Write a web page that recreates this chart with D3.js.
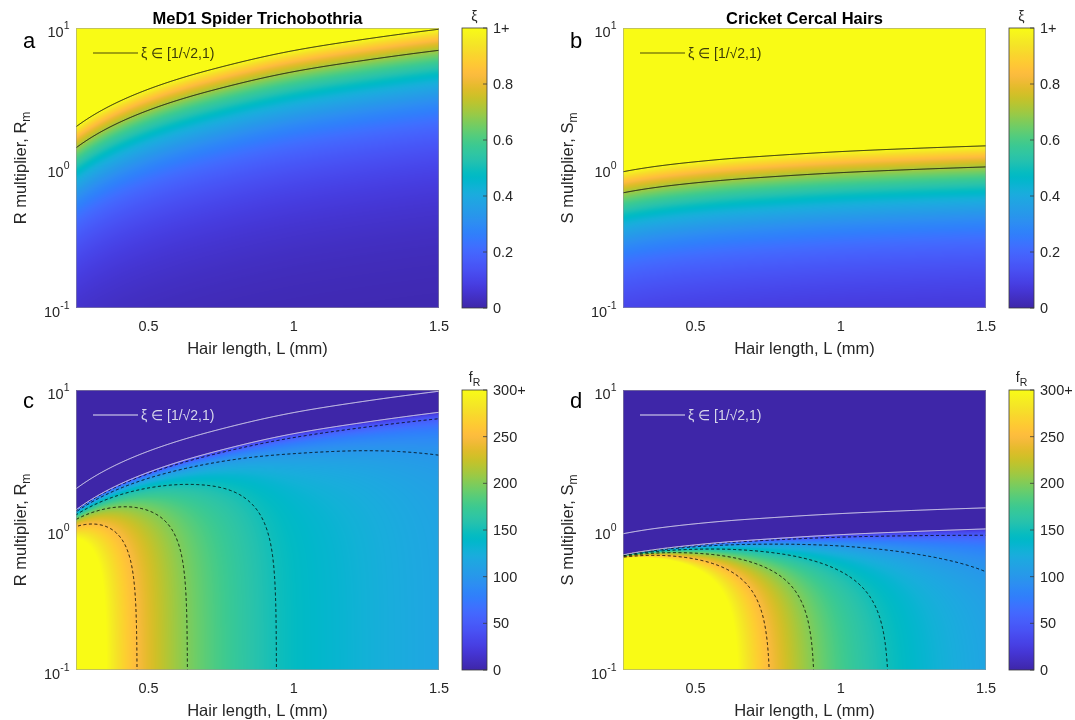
<!DOCTYPE html>
<html>
<head>
<meta charset="utf-8">
<script src="https://cdn.jsdelivr.net/npm/d3@7"></script>
<style>
  body { margin: 0; background: #fff; }
  #wrap { position: relative; width: 1075px; height: 720px; }
  #wrap canvas, #wrap svg { position: absolute; left: 0; top: 0; }
  text { font-family: "Liberation Sans", Arial, Helvetica, sans-serif; }
</style>
</head>
<body>
<div id="wrap">
  <canvas id="heat" width="1075" height="720"></canvas>
  <svg id="chart" width="1075" height="720"></svg>
</div>
<script>
// Hair lengths (mm) at which the boundary curves and frequencies are sampled
const hairLength = [0.25, 0.375, 0.5, 0.625, 0.75, 1.0, 1.25, 1.5];
// Multiplier giving critical damping (xi = 1), spider trichobothria (R_m)
const spiderCritical = [1.97, 2.83, 3.66, 4.47, 5.27, 6.9, 8.35, 9.8];
// Multiplier giving critical damping (xi = 1), cricket cercal hairs (S_m)
const cricketCritical = [0.94, 1.035, 1.108, 1.17, 1.22, 1.31, 1.38, 1.44];
// Lightly damped resonant frequency (Hz) against hair length
const spiderFreq = [384, 289, 236, 202, 178, 144, 128, 115];
const cricketFreq = [920, 573, 408, 314, 253, 179, 139, 115];

// Axis and colour-bar ticks
const lengthTicks = [0.5, 1, 1.5];
const multiplierTicks = [0.1, 1, 10];
const multiplierExponents = ["-1", "0", "1"];
const xiTicks = [0, 0.2, 0.4, 0.6, 0.8, 1];
const xiTickLabels = ["0", "0.2", "0.4", "0.6", "0.8", "1+"];
const freqTicks = [0, 50, 100, 150, 200, 250, 300];
const freqTickLabels = ["0", "50", "100", "150", "200", "250", "300+"];
// Contour levels
const xiLevels = [Math.SQRT1_2, 1];
const freqLevels = [50, 100, 150, 200, 250];

// parula colour map
const parula = [
[0.2422,0.1504,0.6603],[0.2504,0.1650,0.7076],[0.2578,0.1818,0.7511],[0.2647,0.1978,0.7952],
[0.2706,0.2147,0.8364],[0.2751,0.2342,0.8710],[0.2783,0.2559,0.8991],[0.2803,0.2782,0.9221],
[0.2813,0.3006,0.9414],[0.2810,0.3228,0.9579],[0.2795,0.3447,0.9717],[0.2760,0.3667,0.9829],
[0.2699,0.3892,0.9906],[0.2602,0.4123,0.9952],[0.2440,0.4358,0.9988],[0.2206,0.4603,0.9973],
[0.1963,0.4847,0.9892],[0.1834,0.5074,0.9798],[0.1786,0.5289,0.9682],[0.1764,0.5499,0.9520],
[0.1687,0.5703,0.9359],[0.1540,0.5902,0.9218],[0.1460,0.6091,0.9079],[0.1380,0.6276,0.8973],
[0.1248,0.6459,0.8883],[0.1113,0.6635,0.8763],[0.0952,0.6798,0.8598],[0.0689,0.6948,0.8394],
[0.0297,0.7082,0.8163],[0.0036,0.7203,0.7917],[0.0067,0.7312,0.7660],[0.0433,0.7411,0.7394],
[0.0964,0.7500,0.7120],[0.1408,0.7584,0.6842],[0.1717,0.7670,0.6554],[0.1938,0.7758,0.6251],
[0.2161,0.7843,0.5923],[0.2470,0.7918,0.5567],[0.2906,0.7973,0.5188],[0.3406,0.8008,0.4789],
[0.3909,0.8029,0.4354],[0.4456,0.8024,0.3909],[0.5044,0.7993,0.3480],[0.5616,0.7942,0.3045],
[0.6174,0.7876,0.2612],[0.6720,0.7793,0.2227],[0.7242,0.7698,0.1910],[0.7738,0.7598,0.1646],
[0.8203,0.7498,0.1535],[0.8634,0.7406,0.1596],[0.9035,0.7330,0.1774],[0.9393,0.7288,0.2100],
[0.9728,0.7298,0.2394],[0.9956,0.7434,0.2371],[0.9970,0.7659,0.2199],[0.9952,0.7893,0.2028],
[0.9892,0.8136,0.1885],[0.9786,0.8386,0.1766],[0.9676,0.8639,0.1643],[0.9610,0.8890,0.1537],
[0.9597,0.9135,0.1423],[0.9628,0.9373,0.1265],[0.9691,0.9606,0.1064],[0.9769,0.9839,0.0805]
];
const parulaScale = d3.scaleLinear()
  .domain(parula.map((_, i) => i / (parula.length - 1)))
  .range(parula.map(c => d3.rgb(c[0] * 255, c[1] * 255, c[2] * 255)))
  .interpolate(d3.interpolateRgb)
  .clamp(true);
const LUT_N = 1024;
const lut = d3.range(LUT_N).map(i => d3.rgb(parulaScale(i / (LUT_N - 1))));

// Smooth monotone curve through sampled points (log-log space)
function smoothCurve(xs, ys) {
  const X = xs.map(Math.log), Y = ys.map(Math.log), n = X.length;
  const d = [], m = [];
  for (let i = 0; i < n - 1; i++) d.push((Y[i + 1] - Y[i]) / (X[i + 1] - X[i]));
  m[0] = d[0]; m[n - 1] = d[n - 2];
  for (let i = 1; i < n - 1; i++) m[i] = d[i - 1] * d[i] <= 0 ? 0 : 2 / (1 / d[i - 1] + 1 / d[i]);
  return v => {
    const x = Math.log(v);
    if (x <= X[0]) return Math.exp(Y[0] + m[0] * (x - X[0]));
    if (x >= X[n - 1]) return Math.exp(Y[n - 1] + m[n - 1] * (x - X[n - 1]));
    const i = Math.min(d3.bisectRight(X, x) - 1, n - 2);
    const h = X[i + 1] - X[i], t = (x - X[i]) / h, t2 = t * t, t3 = t2 * t;
    const y = (2 * t3 - 3 * t2 + 1) * Y[i] + (t3 - 2 * t2 + t) * h * m[i]
            + (-2 * t3 + 3 * t2) * Y[i + 1] + (t3 - t2) * h * m[i + 1];
    return Math.exp(y);
  };
}

const spider = { crit: smoothCurve(hairLength, spiderCritical), f0: smoothCurve(hairLength, spiderFreq) };
const cricket = { crit: smoothCurve(hairLength, cricketCritical), f0: smoothCurve(hairLength, cricketFreq) };

// damping ratio and damped resonant frequency
const dampingRatio = (sp, L, mult) => mult / sp.crit(L);
function resonantFreq(sp, L, mult) {
  const xi = dampingRatio(sp, L, mult);
  return xi < Math.SQRT1_2 ? sp.f0(L) * Math.sqrt(1 - 2 * xi * xi) : 0;
}

const colLeft = [76, 623], plotW = 363;
const rowTop = [28, 390], plotH = 280;
const cbOffset = 386, cbW = 25;

const panels = [
  { letter: "a", col: 0, row: 0, sp: spider, kind: "xi", title: "MeD1 Spider Trichobothria", ylab: "R multiplier, R" },
  { letter: "b", col: 1, row: 0, sp: cricket, kind: "xi", title: "Cricket Cercal Hairs", ylab: "S multiplier, S" },
  { letter: "c", col: 0, row: 1, sp: spider, kind: "freq", ylab: "R multiplier, R" },
  { letter: "d", col: 1, row: 1, sp: cricket, kind: "freq", ylab: "S multiplier, S" }
];

const svg = d3.select("#chart");
const ctx = document.getElementById("heat").getContext("2d");
const defs = svg.append("defs");
const tickColor = "#262626";

// colour-bar gradient
const grad = defs.append("linearGradient").attr("id", "parulaGrad")
  .attr("x1", 0).attr("y1", 1).attr("x2", 0).attr("y2", 0);
grad.selectAll("stop").data(d3.range(65)).join("stop")
  .attr("offset", i => i / 64)
  .attr("stop-color", i => parulaScale(i / 64));

panels.forEach((p, pi) => {
  const left = colLeft[p.col], top = rowTop[p.row];
  const right = left + plotW, bottom = top + plotH;
  const x = d3.scaleLinear().domain([0.25, 1.5]).range([left, right]);
  const y = d3.scaleLog().domain([0.1, 10]).range([bottom, top]);
  const isXi = p.kind === "xi";
  const vmax = isXi ? 1 : 300;
  const field = isXi ? (L, m) => dampingRatio(p.sp, L, m) : (L, m) => resonantFreq(p.sp, L, m);

  // heat map, one sample per screen pixel
  const img = ctx.createImageData(plotW, plotH);
  for (let j = 0; j < plotH; j++) {
    const m = y.invert(top + j + 0.5);
    for (let i = 0; i < plotW; i++) {
      const L = x.invert(left + i + 0.5);
      const t = Math.max(0, Math.min(1, field(L, m) / vmax));
      const c = lut[Math.round(t * (LUT_N - 1))];
      const k = (j * plotW + i) * 4;
      img.data[k] = c.r; img.data[k + 1] = c.g; img.data[k + 2] = c.b; img.data[k + 3] = 255;
    }
  }
  ctx.putImageData(img, left, top);

  const g = svg.append("g");
  defs.append("clipPath").attr("id", "clip" + pi)
    .append("rect").attr("x", left).attr("y", top).attr("width", plotW).attr("height", plotH);

  // contour lines computed on a slightly larger grid, clipped to the axes
  function contourPaths(fn, levels) {
    const mg = 3, nx = plotW + 2 * mg, ny = plotH + 2 * mg;
    const values = new Float64Array(nx * ny);
    for (let j = 0; j < ny; j++) {
      const m = y.invert(top - mg + j + 0.5);
      for (let i = 0; i < nx; i++) values[j * nx + i] = fn(x.invert(left - mg + i + 0.5), m);
    }
    const polys = d3.contours().size([nx, ny]).thresholds(levels)(values);
    const proj = d3.geoTransform({ point(px, py) { this.stream.point(left - mg + px, top - mg + py); } });
    return { polys, path: d3.geoPath(proj) };
  }

  const cg = g.append("g").attr("clip-path", `url(#clip${pi})`);
  if (!isXi) {
    const fc = contourPaths((L, m) => resonantFreq(p.sp, L, m), freqLevels);
    cg.selectAll("path.fr").data(fc.polys).join("path").attr("class", "fr")
      .attr("d", fc.path).attr("fill", "none").attr("stroke", "#000")
      .attr("stroke-width", 0.9).attr("stroke-dasharray", "3,2.5");
  }
  const xc = contourPaths((L, m) => dampingRatio(p.sp, L, m), xiLevels);
  const lineCol = isXi ? "#111" : "#e8e8f4";
  cg.selectAll("path.xi").data(xc.polys).join("path").attr("class", "xi")
    .attr("d", xc.path).attr("fill", "none").attr("stroke", lineCol).attr("stroke-width", 1);

  // axes frame
  g.append("rect").attr("x", left + 0.5).attr("y", top + 0.5).attr("width", plotW - 1).attr("height", plotH - 1)
    .attr("fill", "none").attr("stroke", "rgba(150,150,150,0.55)").attr("stroke-width", 1);

  // legend
  const legY = top + 25;
  g.append("line").attr("x1", left + 17).attr("x2", left + 62).attr("y1", legY).attr("y2", legY)
    .attr("stroke", isXi ? "#4a4a08" : "#e4e4f2").attr("stroke-width", 1.2);
  g.append("text").attr("x", left + 65).attr("y", legY + 5)
    .attr("font-size", 14).attr("fill", isXi ? "#3c3c08" : "#d6d6ea")
    .text("\u03BE \u2208 [1/\u221A2,1)");

  // x tick labels
  g.selectAll("text.xt").data(lengthTicks).join("text").attr("class", "xt")
    .attr("x", d => x(d)).attr("y", bottom + 23).attr("text-anchor", "middle")
    .attr("font-size", 14.5).attr("fill", tickColor).text(d => d3.format("")(d));
  // x axis label
  g.append("text").attr("x", (left + right) / 2).attr("y", bottom + 46).attr("text-anchor", "middle")
    .attr("font-size", 16.5).attr("fill", tickColor).text("Hair length, L (mm)");

  // y tick labels 10^n
  multiplierTicks.forEach((v, k) => {
    const t = g.append("text").attr("x", left - 6.5).attr("y", y(v) + 9).attr("text-anchor", "end")
      .attr("font-size", 14.5).attr("fill", tickColor);
    t.append("tspan").text("10");
    t.append("tspan").attr("dy", -8).attr("font-size", 10.5).text(multiplierExponents[k]);
  });
  // y axis label
  const yl = g.append("text").attr("transform", `translate(${left - 50},${(top + bottom) / 2}) rotate(-90)`)
    .attr("text-anchor", "middle").attr("font-size", 16.5).attr("fill", tickColor);
  yl.append("tspan").text(p.ylab);
  yl.append("tspan").attr("dy", 4).attr("font-size", 12).text("m");

  // panel letter and title
  g.append("text").attr("x", left - 53).attr("y", top + (p.row === 0 ? 20 : 18))
    .attr("font-size", 22).attr("fill", "#000").text(p.letter);
  if (p.title) {
    g.append("text").attr("x", (left + right) / 2).attr("y", top - 4).attr("text-anchor", "middle")
      .attr("font-size", 16.5).attr("font-weight", "bold").attr("fill", "#000").text(p.title);
  }

  // colour bar
  const cbX = left + cbOffset;
  const cbScale = d3.scaleLinear().domain([0, vmax]).range([bottom, top]);
  g.append("rect").attr("x", cbX).attr("y", top).attr("width", cbW).attr("height", plotH)
    .attr("fill", "url(#parulaGrad)").attr("stroke", "#3a3a3a").attr("stroke-width", 0.8);
  const cTicks = isXi ? xiTicks : freqTicks;
  const cLabels = isXi ? xiTickLabels : freqTickLabels;
  g.selectAll("line.ct").data(cTicks).join("line").attr("class", "ct")
    .attr("x1", cbX + cbW - 4).attr("x2", cbX + cbW)
    .attr("y1", d => cbScale(d)).attr("y2", d => cbScale(d))
    .attr("stroke", "#3a3a3a").attr("stroke-width", 0.8);
  g.selectAll("text.cl").data(cTicks).join("text").attr("class", "cl")
    .attr("x", cbX + cbW + 6).attr("y", d => cbScale(d) + 5)
    .attr("font-size", 14.5).attr("fill", tickColor).text((d, i) => cLabels[i]);
  const ct = g.append("text").attr("x", cbX + cbW / 2).attr("y", top - 7).attr("text-anchor", "middle")
    .attr("font-size", 14).attr("fill", tickColor);
  if (isXi) {
    ct.text("\u03BE");
  } else {
    ct.attr("y", top - 8);
    ct.append("tspan").text("f");
    ct.append("tspan").attr("dy", 4).attr("font-size", 10.5).text("R");
  }
});
</script>
</body>
</html>
